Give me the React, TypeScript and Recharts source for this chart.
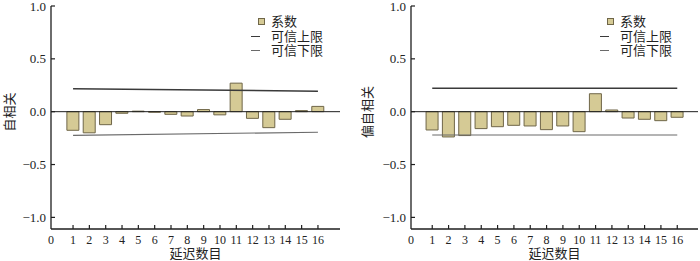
import React from 'react'
import { ComposedChart, Bar, Line, XAxis, YAxis, ReferenceLine, Legend, Label } from 'recharts'

const lags = [1, 2, 3, 4, 5, 6, 7, 8, 9, 10, 11, 12, 13, 14, 15, 16]
const acf = [-0.176, -0.2, -0.123, -0.015, 0.005, -0.005, -0.025, -0.041, 0.02, -0.03, 0.27, -0.063, -0.151, -0.072, 0.01, 0.05]
const pacf = [-0.173, -0.239, -0.226, -0.16, -0.142, -0.129, -0.135, -0.17, -0.135, -0.189, 0.17, 0.016, -0.06, -0.072, -0.085, -0.053]

// limit lines are straight segments between the first and last lag
const limitLags = [1, 16]
const acfUpper = [0.217, 0.194]
const acfLower = [-0.224, -0.195]
const pacfUpper = [0.222, 0.222]
const pacfLower = [-0.22, -0.22]

const yTicks = [-1, -0.5, 0, 0.5, 1]
const legendNames = ['系数', '可信上限', '可信下限']

const BAR_FILL = '#d5ca95'
const BAR_STROKE = '#6f6648'
const UPPER = '#3a3a3a'
const LOWER = '#6a6a6a'
const AXIS = '#1e1e1e'
const NUM_FONT = '"Liberation Serif", "Times New Roman", serif'
const CJK_FONT = '"Noto Sans CJK SC", "Noto Sans CJK JP", sans-serif'

function XTick(props: any) {
  const { x, y, payload } = props
  const isOrigin = payload.value < 0
  return (
    <g>
      {!isOrigin && <line x1={x} x2={x} y1={y} y2={y - 4} stroke={AXIS} strokeWidth={1.2} />}
      <text x={x} y={y + 15} textAnchor="middle" fontSize={12} fontFamily={NUM_FONT} fill="#222">
        {isOrigin ? '0' : payload.value}
      </text>
    </g>
  )
}

function YTick(props: any) {
  const { x, y, payload } = props
  const v: number = payload.value
  const label = v < 0 ? '−' + Math.abs(v).toFixed(1) : v.toFixed(1)
  return (
    <g>
      <line x1={x} x2={x + 4} y1={y} y2={y} stroke={AXIS} strokeWidth={1.2} />
      <text x={x - 5} y={y + 4.5} textAnchor="end" fontSize={13} fontFamily={NUM_FONT} fill="#222">
        {label}
      </text>
    </g>
  )
}

function LegendBox() {
  const row: React.CSSProperties = { display: 'flex', alignItems: 'center', height: 14.5, whiteSpace: 'nowrap' }
  const text: React.CSSProperties = { fontFamily: CJK_FONT, fontSize: 13, color: '#222', lineHeight: '14px' }
  return (
    <div>
      {legendNames.map((name, i) => (
        <div key={name} style={row}>
          <span style={{ width: 20, position: 'relative', height: 14 }}>
            {i === 0 ? (
              <span style={{ position: 'absolute', left: 7, top: 4, width: 5, height: 5, background: BAR_FILL, border: `1px solid ${BAR_STROKE}` }} />
            ) : (
              <span style={{ position: 'absolute', left: 0, top: 7, width: 9, height: i === 1 ? 1.6 : 1.2, background: i === 1 ? UPPER : LOWER }} />
            )}
          </span>
          <span style={text}>{name}</span>
        </div>
      ))}
    </div>
  )
}

interface PanelProps {
  values: number[]
  upper: number[]
  lower: number[]
  yLabel: string
  yLabelX: number
  margin: { top: number; right: number; bottom: number; left: number }
  xDomain: [number, number]
  legendLeft: number
}

function Panel({ values, upper, lower, yLabel, yLabelX, margin, xDomain, legendLeft }: PanelProps) {
  const data = lags.map((lag, i) => ({ lag, value: values[i] }))
  const limits = limitLags.map((lag, i) => ({ lag, upper: upper[i], lower: lower[i] }))
  const plotLeft = margin.left + 40
  const plotRight = 350 - margin.right
  return (
    <ComposedChart width={350} height={261} data={data} margin={margin}>
      <XAxis
        dataKey="lag"
        type="number"
        domain={xDomain}
        allowDataOverflow
        ticks={[xDomain[0], ...lags]}
        interval={0}
        height={20}
        tickSize={0}
        tickMargin={0}
        tickLine={false}
        axisLine={{ stroke: AXIS, strokeWidth: 1.3 }}
        tick={<XTick />}
      >
        <Label
          content={() => (
            <text x={(plotLeft + plotRight) / 2} y={258} textAnchor="middle" fontSize={13} fontFamily={CJK_FONT} fill="#222">
              延迟数目
            </text>
          )}
        />
      </XAxis>
      <YAxis
        type="number"
        domain={[-1.11, 1]}
        allowDataOverflow
        ticks={yTicks}
        interval={0}
        width={40}
        tickSize={0}
        tickMargin={0}
        tickLine={false}
        axisLine={{ stroke: AXIS, strokeWidth: 1.3 }}
        tick={<YTick />}
      >
        <Label
          content={() => (
            <text
              x={yLabelX}
              y={112}
              transform={`rotate(-90 ${yLabelX} 112)`}
              textAnchor="middle"
              dominantBaseline="central"
              fontSize={13}
              fontFamily={CJK_FONT}
              fill="#222"
            >
              {yLabel}
            </text>
          )}
        />
      </YAxis>
      <ReferenceLine y={0} stroke={AXIS} strokeWidth={1} />
      <Bar dataKey="value" barSize={12} fill={BAR_FILL} stroke={BAR_STROKE} strokeWidth={1} isAnimationActive={false} />
      <Line data={limits} dataKey="upper" stroke={UPPER} strokeWidth={1.5} dot={false} isAnimationActive={false} />
      <Line data={limits} dataKey="lower" stroke={LOWER} strokeWidth={1.1} dot={false} isAnimationActive={false} />
      <Legend
        layout="horizontal"
        align="center"
        verticalAlign="middle"
        content={<LegendBox />}
        wrapperStyle={{ position: 'absolute', left: legendLeft, top: 14, width: 90 }}
      />
    </ComposedChart>
  )
}

export default function App() {
  return (
    <div style={{ position: 'absolute', left: 0, top: 0, width: 700, height: 261, background: '#fff', display: 'flex' }}>
      <Panel
        values={acf}
        upper={acfUpper}
        lower={acfLower}
        yLabel="自相关"
        yLabelX={8}
        margin={{ top: 6, right: 10, bottom: 12, left: 11 }}
        xDomain={[-0.35, 17.35]}
        legendLeft={251}
      />
      <Panel
        values={pacf}
        upper={pacfUpper}
        lower={pacfLower}
        yLabel="偏自相关"
        yLabelX={16}
        margin={{ top: 6, right: 2, bottom: 12, left: 21 }}
        xDomain={[-0.3, 17.27]}
        legendLeft={250}
      />
    </div>
  )
}
